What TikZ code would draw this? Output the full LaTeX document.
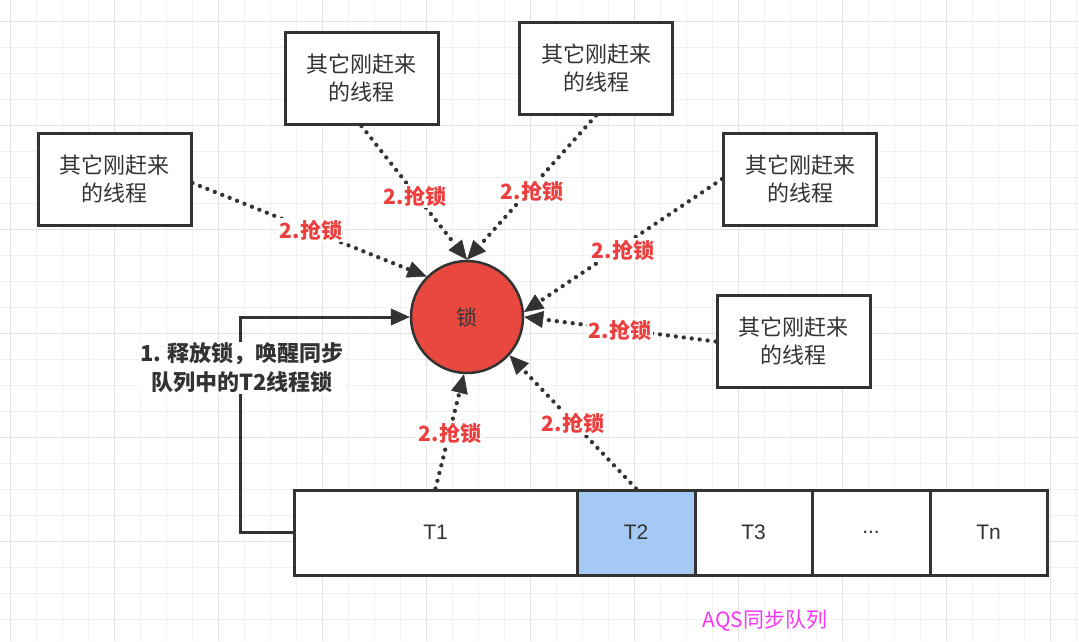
\documentclass[tikz,border=0pt]{standalone}
\usepackage{fontspec}
\setmainfont{Liberation Sans}
\newfontfamily\cjk{Noto Sans CJK SC}
\usetikzlibrary{arrows.meta}
\definecolor{ink}{RGB}{51,51,51}
\definecolor{lockred}{RGB}{233,72,62}
\definecolor{lblred}{RGB}{236,64,64}
\definecolor{qblue}{RGB}{164,201,245}
\definecolor{aqsmag}{RGB}{245,55,245}
\definecolor{gridminor}{RGB}{240,240,240}
\definecolor{gridmajor}{RGB}{226,226,226}
\tikzset{
  thread/.style={draw=ink, line width=3pt, fill=white, minimum width=153pt, minimum height=92pt,
    align=center, text=ink, font=\cjk\fontsize{22}{28}\selectfont, inner sep=0pt},
  cell/.style={draw=ink, line width=3pt, fill=white, minimum height=85pt, inner sep=0pt,
    text=ink, font=\fontsize{21}{25}\selectfont},
  grab/.style={draw=ink, line width=4.3pt, line cap=round, dash pattern=on 0pt off 8pt,
    -{Triangle[length=19pt,width=17pt,line width=0.5pt]}},
  lbl/.style={fill=white, text=lblred, font=\cjk\bfseries\fontsize{21}{25}\selectfont, inner sep=1.5pt},
}
\begin{document}
\begin{tikzpicture}[x=1pt,y=-1pt]
\useasboundingbox (0,0) rectangle (1079,641);
\fill[white] (0,0) rectangle (1079,641);
% grid
\foreach \gx in {10,36,...,1078} \draw[gridminor, line width=1pt] (\gx,0) -- (\gx,641);
\foreach \gy in {21,47,...,640} \draw[gridminor, line width=1pt] (0,\gy) -- (1079,\gy);
\foreach \gx in {10,114,...,1078} \draw[gridmajor, line width=1pt] (\gx,0) -- (\gx,641);
\foreach \gy in {21,125,...,640} \draw[gridmajor, line width=1pt] (0,\gy) -- (1079,\gy);

% lock
\node[circle, draw=ink, line width=2.5pt, fill=lockred, minimum size=112pt, inner sep=0pt,
  text=ink, font=\cjk\fontsize{21}{25}\selectfont] (lock) at (467,317) {锁};

% thread boxes
\node[thread] (b1) at (114.5,179) {其它刚赶来\\的线程};
\node[thread] (b2) at (361.5,78.5) {其它刚赶来\\的线程};
\node[thread] (b3) at (596,68) {其它刚赶来\\的线程};
\node[thread] (b4) at (800,179) {其它刚赶来\\的线程};
\node[thread] (b5) at (793.5,341.5) {其它刚赶来\\的线程};

% queue
\node[cell, minimum width=283pt] (t1) at (435.5,532.5) {T1};
\node[cell, minimum width=118pt, fill=qblue] (t2) at (636,532.5) {T2};
\node[cell, minimum width=117pt] (t3) at (753.5,532.5) {T3};
\node[cell, minimum width=118pt] (tx) at (871,532.5) {...};
\node[cell, minimum width=117pt] (tn) at (988.5,532.5) {Tn};
\node[text=aqsmag, font=\cjk\fontsize{21}{25}\selectfont] (aqs) at (765,621) {AQS同步队列};

% release connector
\draw[draw=ink, line width=3pt, -{Triangle[length=19pt,width=17pt,line width=0.5pt]}]
  (t1.west) -- ++(-52,0) |- (lock.west);
\node[fill=white, text=ink, align=center, font=\cjk\bfseries\fontsize{22}{29}\selectfont, inner sep=1pt]
  (rel) at (242,368) {1. 释放锁，唤醒同步\\队列中的T2线程锁};

% grab arrows
\draw[grab] ([yshift=-4pt]b1.east) -- (lock.135);
\draw[grab] (b2.south) -- (lock.north);
\draw[grab] (b3.south) -- (lock.north);
\draw[grab] (b4.west) -- (lock.5);
\draw[grab] (b5.west) -- (lock.east);
\draw[grab] (t1.north) -- (lock.-93);
\draw[grab] (t2.north) -- (lock.-42);

% labels
\node[lbl] (l1) at (311,230) {2.抢锁};
\node[lbl] (l2) at (415,196) {2.抢锁};
\node[lbl] (l3) at (532,191) {2.抢锁};
\node[lbl] (l4) at (623,250) {2.抢锁};
\node[lbl] (l5) at (620,330) {2.抢锁};
\node[lbl] (l6) at (450,433) {2.抢锁};
\node[lbl] (l7) at (573,423) {2.抢锁};
\end{tikzpicture}
\end{document}
